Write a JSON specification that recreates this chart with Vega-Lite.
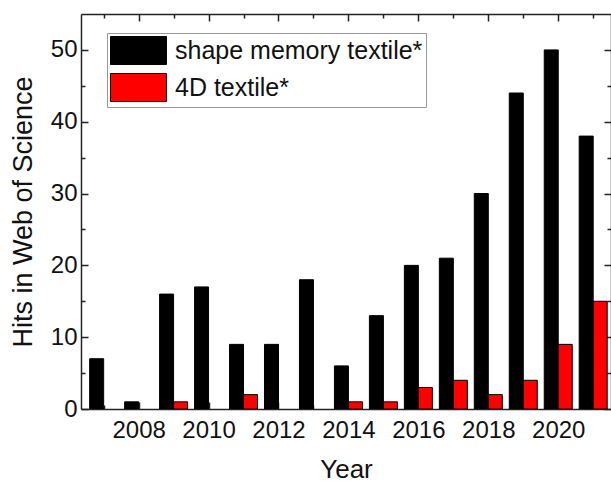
{
  "$schema": "https://vega.github.io/schema/vega-lite/v6.json",
  "width": 530,
  "height": 395,
  "autosize": {"type": "none"},
  "padding": {"left": 81, "top": 14, "right": 0, "bottom": 74},
  "background": "white",
  "config": {
    "font": "Liberation Sans",
    "view": {"stroke": null},
    "axis": {"labelFont": "Liberation Sans", "titleFont": "Liberation Sans", "labelColor": "#111", "titleColor": "#111", "titleFontWeight": "normal", "domainColor": "#222", "domainWidth": 1.5, "tickColor": "#222", "tickWidth": 1.5, "grid": false}
  },
  "data": {"values": [
    {"year": 2007, "series": "shape memory textile*", "hits": 7},
    {"year": 2008, "series": "shape memory textile*", "hits": 1},
    {"year": 2009, "series": "shape memory textile*", "hits": 16},
    {"year": 2010, "series": "shape memory textile*", "hits": 17},
    {"year": 2011, "series": "shape memory textile*", "hits": 9},
    {"year": 2012, "series": "shape memory textile*", "hits": 9},
    {"year": 2013, "series": "shape memory textile*", "hits": 18},
    {"year": 2014, "series": "shape memory textile*", "hits": 6},
    {"year": 2015, "series": "shape memory textile*", "hits": 13},
    {"year": 2016, "series": "shape memory textile*", "hits": 20},
    {"year": 2017, "series": "shape memory textile*", "hits": 21},
    {"year": 2018, "series": "shape memory textile*", "hits": 30},
    {"year": 2019, "series": "shape memory textile*", "hits": 44},
    {"year": 2020, "series": "shape memory textile*", "hits": 50},
    {"year": 2021, "series": "shape memory textile*", "hits": 38},
    {"year": 2007, "series": "4D textile*", "hits": 0},
    {"year": 2008, "series": "4D textile*", "hits": 0},
    {"year": 2009, "series": "4D textile*", "hits": 1},
    {"year": 2010, "series": "4D textile*", "hits": 0},
    {"year": 2011, "series": "4D textile*", "hits": 2},
    {"year": 2012, "series": "4D textile*", "hits": 0},
    {"year": 2013, "series": "4D textile*", "hits": 0},
    {"year": 2014, "series": "4D textile*", "hits": 1},
    {"year": 2015, "series": "4D textile*", "hits": 1},
    {"year": 2016, "series": "4D textile*", "hits": 3},
    {"year": 2017, "series": "4D textile*", "hits": 4},
    {"year": 2018, "series": "4D textile*", "hits": 2},
    {"year": 2019, "series": "4D textile*", "hits": 4},
    {"year": 2020, "series": "4D textile*", "hits": 9},
    {"year": 2021, "series": "4D textile*", "hits": 15}
  ]},
  "layer": [
    {
      "transform": [{"filter": "datum.series === 'shape memory textile*'"}],
      "mark": {"type": "bar", "width": 14, "xOffset": -7, "stroke": "#000", "clip": true},
      "encoding": {
        "x": {"field": "year", "type": "quantitative",
          "scale": {"domain": [2006.495, 2021.366], "nice": false, "zero": false},
          "axis": {"orient": "bottom", "values": [2007,2008,2009,2010,2011,2012,2013,2014,2015,2016,2017,2018,2019,2020,2021],
            "format": "d", "labelExpr": "datum.value % 2 === 0 ? datum.label : ''",
            "tickSize": {"condition": {"test": "datum.value % 2 === 0", "value": -7}, "value": -4},
            "labelFontSize": 24, "labelPadding": 16, "labelOverlap": false, "labelFlush": false,
            "title": "Year", "titleFontSize": 26, "titlePadding": 11}},
        "y": {"field": "hits", "type": "quantitative",
          "scale": {"domain": [0, 55], "nice": false},
          "axis": {"orient": "left", "values": [0,5,10,15,20,25,30,35,40,45,50],
            "labelExpr": "datum.value % 10 === 0 ? datum.label : ''",
            "tickSize": {"condition": {"test": "datum.value % 10 === 0", "value": -7}, "value": -4},
            "labelFontSize": 24, "labelPadding": 11, "labelOverlap": false, "labelFlush": false,
            "title": "Hits in Web of Science", "titleFontSize": 27, "titlePadding": 13}},
        "strokeWidth": {"condition": {"test": "datum.hits > 0", "value": 1}, "value": 0},
        "color": {"field": "series", "type": "nominal",
          "scale": {"domain": ["shape memory textile*", "4D textile*"], "range": ["#000000", "#ff0000"]},
          "legend": {"title": null, "orient": "none", "legendX": 26, "legendY": 19,
            "strokeColor": "#999", "fillColor": "white", "padding": 3,
            "symbolType": "M-1,-1H3V1H-1Z", "symbolSize": 784, "symbolStrokeColor": "#000", "symbolStrokeWidth": 1, "symbolOpacity": 1,
            "labelFontSize": 25, "labelFont": "Liberation Sans", "labelColor": "#111", "labelOffset": 36, "rowPadding": 4, "labelLimit": 400}}
      }
    },
    {
      "transform": [{"filter": "datum.series === '4D textile*'"}],
      "mark": {"type": "bar", "width": 14, "xOffset": 7, "stroke": "#000", "clip": true},
      "encoding": {
        "x": {"field": "year", "type": "quantitative",
          "scale": {"domain": [2006.495, 2021.366], "nice": false, "zero": false},
          "axis": {"orient": "top", "values": [2007,2008,2009,2010,2011,2012,2013,2014,2015,2016,2017,2018,2019,2020,2021],
            "labels": false, "title": null,
            "tickSize": {"condition": {"test": "datum.value % 2 === 0", "value": -7}, "value": -4}}},
        "y": {"field": "hits", "type": "quantitative",
          "scale": {"domain": [0, 55], "nice": false},
          "axis": {"orient": "right", "values": [0,5,10,15,20,25,30,35,40,45,50],
            "labels": false, "title": null,
            "tickSize": {"condition": {"test": "datum.value % 10 === 0", "value": -7}, "value": -4}}},
        "strokeWidth": {"condition": {"test": "datum.hits > 0", "value": 1}, "value": 0},
        "color": {"field": "series", "type": "nominal",
          "scale": {"domain": ["shape memory textile*", "4D textile*"], "range": ["#000000", "#ff0000"]}}
      }
    }
  ],
  "resolve": {"axis": {"x": "independent", "y": "independent"}}
}
